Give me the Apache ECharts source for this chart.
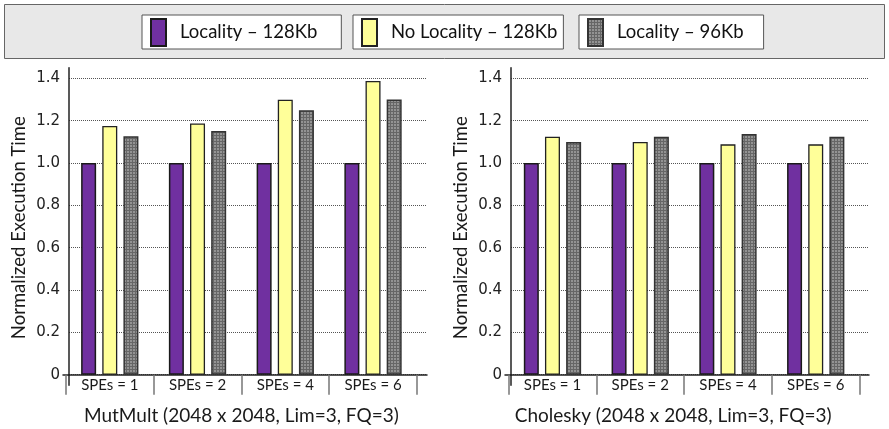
<!DOCTYPE html>
<html>
<head>
<meta charset="utf-8">
<script src="https://cdn.jsdelivr.net/npm/echarts@6/dist/echarts.min.js"></script>
<style>html,body{margin:0;padding:0;background:#fff}#c{width:889px;height:429px}</style>
</head>
<body>
<div id="c"></div>
<script>
// ---- data ----
var categories = ['SPEs = 1', 'SPEs = 2', 'SPEs = 4', 'SPEs = 6'];
var seriesNames = ['Locality \u2013 128Kb', 'No Locality \u2013 128Kb', 'Locality \u2013 96Kb'];
var mutmultLoc128 = [1.0, 1.0, 1.0, 1.0];
var mutmultNoLoc128 = [1.175, 1.187, 1.299, 1.387];
var mutmultLoc96 = [1.126, 1.151, 1.249, 1.30];
var choleskyLoc128 = [1.0, 1.0, 1.0, 1.0];
var choleskyNoLoc128 = [1.124, 1.099, 1.088, 1.088];
var choleskyLoc96 = [1.099, 1.124, 1.137, 1.124];
var yTicks = [0, 0.2, 0.4, 0.6, 0.8, 1.0, 1.2, 1.4];
var leftTitle = 'MutMult (2048 x 2048, Lim=3, FQ=3)';
var rightTitle = 'Cholesky (2048 x 2048, Lim=3, FQ=3)';
var yName = 'Normalized Execution Time';

// ---- texture for gray series ----
var cv = document.createElement('canvas');
cv.width = 3; cv.height = 3;
var cx = cv.getContext('2d');
cx.fillStyle = '#939393'; cx.fillRect(0, 0, 3, 3);
cx.fillStyle = '#666666'; cx.fillRect(0, 0, 3, 1); cx.fillRect(0, 0, 1, 3);
var grayPattern = { image: cv, repeat: 'repeat' };

var chart = echarts.init(document.getElementById('c'), null, { renderer: 'canvas' });

var TOP = 67.7, H = 307, YMAX = 1.45;
var fontT = 'Lato';
var AX = { color: '#222', width: 1.5 };

function g(left, top, width, height) {
  return { left: left, top: top, width: width, height: height, containLabel: false, outerBoundsMode: 'none' };
}
function bgGrid(left) { return g(left, TOP, 358, H); }
function barGrid(left) { return g(left, TOP, 351, H); }

function bgX(gi) {
  return { type: 'value', gridIndex: gi, min: 0, max: 1,
    axisLine: { show: true, lineStyle: AX },
    axisTick: { show: false }, axisLabel: { show: false }, splitLine: { show: false } };
}
function bgY(gi) {
  return { type: 'value', gridIndex: gi, min: 0, max: YMAX, interval: 0.2,
    name: yName, nameLocation: 'middle', nameGap: 40,
    nameTextStyle: { fontFamily: fontT, fontSize: 18.5, color: '#1a1a1a', padding: [0, 13, 0, 0] },
    axisLine: { show: true, lineStyle: AX },
    axisTick: { show: false },
    axisLabel: { showMaxLabel: false, margin: 9, fontFamily: 'DejaVu Sans', fontSize: 15, color: '#222',
      formatter: function (v) { return v === 0 ? '0' : v.toFixed(1); } },
    splitLine: { show: true, showMaxLine: false, lineStyle: { type: 'dotted', color: '#555', width: 1 } } };
}
function barX(gi, title, pad) {
  return { type: 'category', gridIndex: gi, data: categories,
    name: title, nameLocation: 'middle', nameGap: 32, nameMoveOverlap: false,
    nameTextStyle: { fontFamily: fontT, fontSize: 19, color: '#1a1a1a', padding: pad },
    axisLine: { show: false },
    axisTick: { show: true, length: 20, lineStyle: { color: '#777', width: 1.5 } },
    axisLabel: { margin: 3, fontFamily: fontT, fontSize: 15, color: '#1a1a1a' } };
}
function barY(gi) {
  return { type: 'value', gridIndex: gi, min: 0, max: YMAX, show: false, splitLine: { show: false } };
}
// small decorative axis stubs (axis line extensions)
function stubX(gi) {
  return { type: 'value', gridIndex: gi, min: 0, max: 1, axisLine: { show: true, lineStyle: AX },
    axisTick: { show: false }, axisLabel: { show: false }, splitLine: { show: false } };
}
function stubY(gi, show) {
  return { type: 'value', gridIndex: gi, min: 0, max: 1, axisLine: { show: show, lineStyle: AX },
    axisTick: { show: false }, axisLabel: { show: false }, splitLine: { show: false } };
}

var styles = [
  { color: '#7030A0', borderColor: '#1a1a1a', borderWidth: 1.5 },
  { color: '#FFFF99', borderColor: '#222', borderWidth: 1.3 },
  { color: grayPattern, borderColor: '#333', borderWidth: 1.5 }
];

function bars(ai, arr) {
  return arr.map(function (d, i) {
    return { type: 'bar', name: seriesNames[i], xAxisIndex: ai, yAxisIndex: ai, data: d,
      barWidth: 15, barGap: '41%', itemStyle: styles[i], animation: false, silent: true };
  });
}

function legend(name, left, padR) {
  return { data: [name], left: left, top: 15, orient: 'horizontal',
    itemWidth: 15, itemHeight: 27, icon: 'rect',
    backgroundColor: '#fff', borderColor: '#555', borderWidth: 1,
    padding: [3, padR, 2, 8], selectedMode: false,
    textStyle: { fontFamily: fontT, fontSize: 18.5, color: '#111', padding: [0, 0, 0, 9] } };
}

var option = {
  animation: false,
  graphic: [{ type: 'rect', shape: { x: 4.5, y: 4.5, width: 880, height: 54 },
    style: { fill: '#e8e8e8', stroke: '#666', lineWidth: 1 }, z: -10 }],
  legend: [
    legend(seriesNames[0], 142, 24),
    legend(seriesNames[1], 353, 6),
    legend(seriesNames[2], 579, 20)
  ],
  grid: [bgGrid(69), barGrid(65.9), bgGrid(511), barGrid(508.6),
    g(63, TOP, 6, H), g(69, TOP + H, 1, 10.6),
    g(505, TOP, 6, H), g(511, TOP + H, 1, 10.6)],
  xAxis: [bgX(0), barX(1, leftTitle, [0, 0, 0, 0]), bgX(2), barX(3, rightTitle, [0, 22, 0, 0]),
    stubX(4), { type: 'value', gridIndex: 5, show: false }, stubX(6), { type: 'value', gridIndex: 7, show: false }],
  yAxis: [bgY(0), barY(1), bgY(2), barY(3),
    stubY(4, false), stubY(5, true), stubY(6, false), stubY(7, true)],
  series: [].concat(
    bars(1, [mutmultLoc128, mutmultNoLoc128, mutmultLoc96]),
    bars(3, [choleskyLoc128, choleskyNoLoc128, choleskyLoc96])
  )
};
chart.setOption(option);
</script>
</body>
</html>
